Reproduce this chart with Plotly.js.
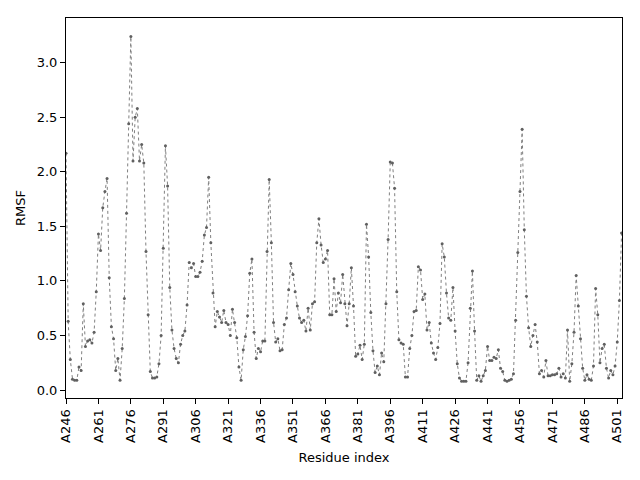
<!DOCTYPE html>
<html>
<head>
<meta charset="utf-8">
<script src="https://cdn.plot.ly/plotly-3.0.1.min.js"></script>
<style>
  html, body { margin: 0; padding: 0; background: #fff; }
  #chart { width: 640px; height: 480px; }
</style>
</head>
<body>
<div id="chart"></div>
<script>
// first residue of chain A, values follow one per residue
const firstResidue = 246;

// RMSF per residue, A246 .. A503
const rmsf = [
    2.17, 0.63, 0.28, 0.10, 0.09, 0.09, 0.21, 0.18, 0.79, 0.40,
    0.45, 0.46, 0.43, 0.53, 0.90, 1.43, 1.28, 1.67, 1.82, 1.94,
    1.03, 0.58, 0.47, 0.18, 0.29, 0.09, 0.38, 0.84, 1.62, 2.44,
    3.24, 2.10, 2.50, 2.58, 2.10, 2.25, 2.08, 1.27, 0.69, 0.17,
    0.11, 0.11, 0.12, 0.24, 0.50, 1.30, 2.24, 1.87, 0.94, 0.55,
    0.38, 0.29, 0.25, 0.42, 0.50, 0.54, 0.78, 1.17, 1.12, 1.16,
    1.04, 1.04, 1.08, 1.18, 1.42, 1.49, 1.95, 1.35, 0.89, 0.58,
    0.72, 0.67, 0.62, 0.73, 0.62, 0.60, 0.50, 0.74, 0.62, 0.48,
    0.21, 0.09, 0.37, 0.49, 0.68, 1.07, 1.20, 0.53, 0.29, 0.38,
    0.35, 0.45, 0.45, 1.27, 1.93, 1.35, 0.62, 0.44, 0.47, 0.36,
    0.37, 0.60, 0.66, 0.92, 1.16, 1.06, 0.90, 0.77, 0.66, 0.62,
    0.64, 0.54, 0.75, 0.55, 0.79, 0.81, 1.35, 1.57, 1.33, 1.17,
    1.20, 1.28, 0.69, 0.69, 1.02, 0.72, 0.89, 0.80, 1.06, 0.79,
    0.59, 0.79, 1.12, 0.77, 0.31, 0.33, 0.41, 0.28, 0.42, 1.52,
    1.22, 0.71, 0.36, 0.16, 0.22, 0.14, 0.34, 0.26, 0.79, 1.38,
    2.09, 2.08, 1.85, 0.90, 0.46, 0.43, 0.42, 0.12, 0.12, 0.38,
    0.50, 0.72, 0.73, 1.13, 1.10, 0.83, 0.88, 0.55, 0.62, 0.43,
    0.34, 0.28, 0.39, 0.61, 1.34, 1.22, 0.89, 0.66, 0.64, 0.94,
    0.54, 0.24, 0.11, 0.08, 0.08, 0.08, 0.25, 0.75, 1.09, 0.54,
    0.09, 0.13, 0.08, 0.13, 0.18, 0.40, 0.27, 0.27, 0.30, 0.29,
    0.37, 0.20, 0.17, 0.09, 0.08, 0.09, 0.10, 0.15, 0.64, 1.26,
    1.82, 2.39, 1.47, 0.86, 0.57, 0.40, 0.50, 0.60, 0.44, 0.15,
    0.18, 0.12, 0.27, 0.13, 0.13, 0.14, 0.14, 0.15, 0.20, 0.12,
    0.15, 0.11, 0.55, 0.08, 0.24, 0.53, 1.05, 0.77, 0.47, 0.20,
    0.09, 0.14, 0.10, 0.09, 0.22, 0.93, 0.69, 0.25, 0.38, 0.42,
    0.20, 0.11, 0.18, 0.14, 0.22, 0.44, 0.82, 1.44
];

// x tick positions and their labels
const tickVals = [246, 261, 276, 291, 306, 321, 336, 351, 366, 381, 396, 411, 426, 441, 456, 471, 486, 501];
const tickText = ["A246", "A261", "A276", "A291", "A306", "A321", "A336", "A351", "A366",
                  "A381", "A396", "A411", "A426", "A441", "A456", "A471", "A486", "A501"];

const yTickVals = [0, 0.5, 1, 1.5, 2, 2.5, 3];

let residues = rmsf.map(function (v, i) {
    return firstResidue + i;
});

let data = [
    {
        x: residues,
        y: rmsf,
        type: "scatter",
        mode: "lines+markers",
        line: { color: "#808080", width: 1, dash: "dot" },
        marker: { color: "#606060", size: 3 },
        cliponaxis: true,
        hoverinfo: "x+y"
    }
];

const axisFont = { family: "DejaVu Sans", size: 13, color: "#000" };

var layout = {
    width: 640,
    height: 480,
    margin: { l: 66, r: 18, t: 18, b: 82 },
    paper_bgcolor: "#fff",
    plot_bgcolor: "#fff",
    showlegend: false,
    font: axisFont,
    xaxis: {
        range: [246, 503.2],
        tickmode: "array",
        tickvals: tickVals,
        ticktext: tickText,
        tickangle: -90,
        ticks: "outside",
        ticklen: 5,
        tickcolor: "#000",
        showline: true,
        linecolor: "#000",
        linewidth: 1,
        mirror: true,
        showgrid: false,
        zeroline: false,
        tickfont: axisFont,
        title: { text: "Residue index", font: axisFont, standoff: 10 }
    },
    yaxis: {
        range: [-0.073, 3.41],
        tickmode: "array",
        tickvals: yTickVals,
        tickformat: ".1f",
        ticks: "outside",
        ticklen: 5,
        tickcolor: "#000",
        showline: true,
        linecolor: "#000",
        linewidth: 1,
        mirror: true,
        showgrid: false,
        zeroline: false,
        tickfont: axisFont,
        title: { text: "RMSF", font: axisFont, standoff: 8 }
    }
};

var config = { staticPlot: true };
Plotly.newPlot("chart", data, layout, config);
</script>
</body>
</html>
